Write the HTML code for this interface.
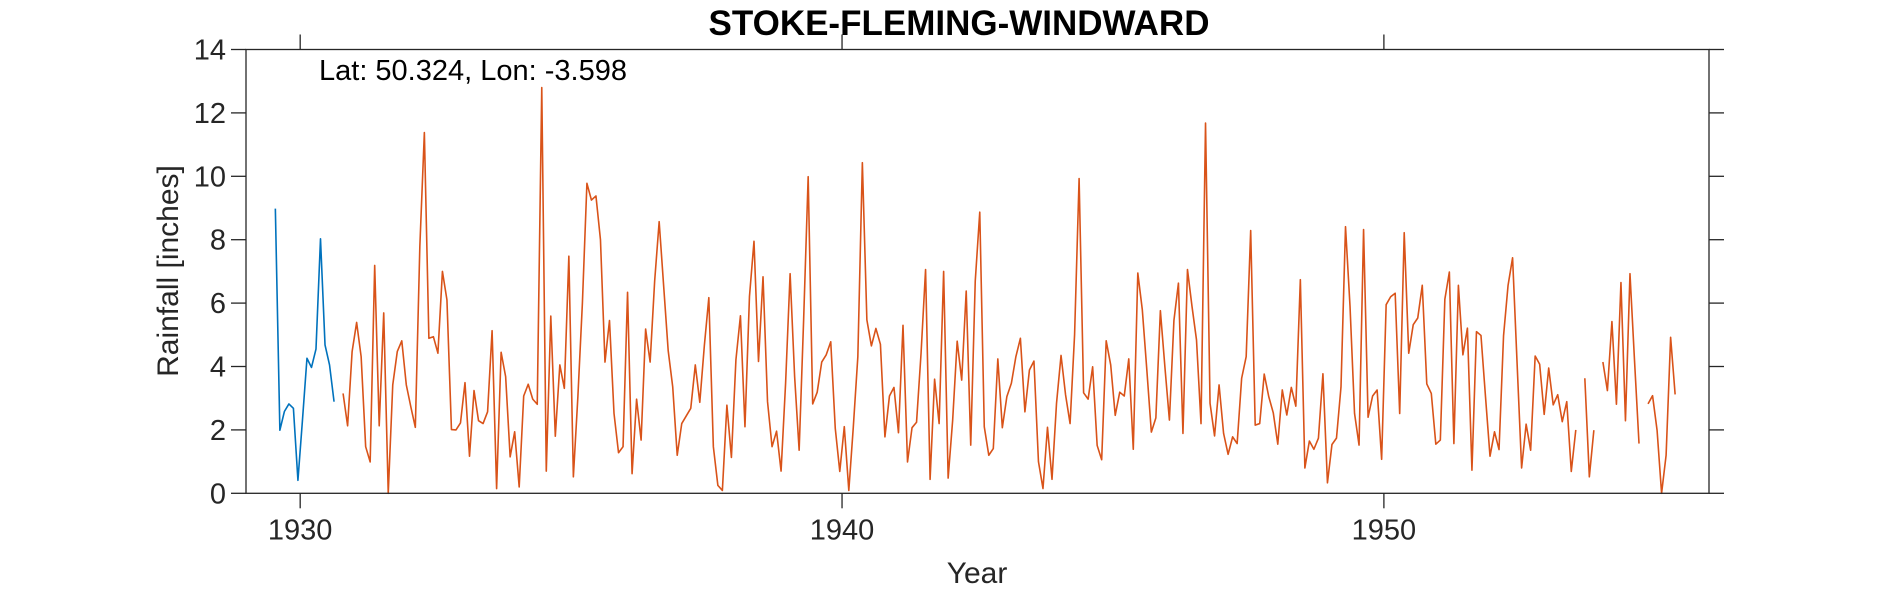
<!DOCTYPE html>
<html><head><meta charset="utf-8"><style>
html,body{margin:0;padding:0;background:#fff;}
svg{display:block;font-family:"Liberation Sans",Arial,sans-serif;}
</style></head><body>
<svg id="chart" width="1890" height="591" viewBox="0 0 1890 591" xmlns="http://www.w3.org/2000/svg">
<rect x="0" y="0" width="1890" height="591" fill="#fff"/>
<g id="marks"></g>
<g id="axes"></g>
<text x="959" y="35" text-anchor="middle" font-size="35" font-weight="bold" fill="#000">STOKE-FLEMING-WINDWARD</text>
<text x="319" y="80" font-size="29" fill="#000">Lat: 50.324, Lon: -3.598</text>
<text x="977" y="583" text-anchor="middle" font-size="30" fill="#262626">Year</text>
<text x="0" y="0" transform="translate(178,271) rotate(-90)" text-anchor="middle" font-size="30" fill="#262626">Rainfall [inches]</text>
</svg>
<script>
// data: monthly rainfall, first value = July 1929
const startYear = 1929;
const startMonth = 7;
const blueValues = [8.98,1.99,2.58,2.82,2.68,0.41,2.3,4.26,3.97,4.55,8.03,4.68,4.05,2.89];
const orangeOffset = 15; // months after start
const orangeValues = [3.15,2.13,4.47,5.39,4.31,1.47,0.99,7.19,2.13,5.69,0,3.42,4.47,4.81,3.42,2.73,2.08,7.79,11.38,4.89,4.94,
4.42,7.0,6.1,2.01,2.0,2.22,3.49,1.17,3.24,2.29,2.2,2.57,5.13,0.15,4.45,3.68,1.15,1.94,0.2,3.07,3.44,2.97,2.81,12.8,0.7,5.59,1.8,4.05,3.31,7.48,0.52,3.05,6.0,9.78,9.25,9.38,8.0,4.14,5.45,2.52,1.28,
1.47,6.34,0.62,2.97,1.68,5.18,4.14,6.69,8.57,6.53,4.5,3.36,1.2,2.2,2.44,2.68,4.05,2.87,4.65,6.17,1.47,0.25,0.09,2.78,1.13,4.21,5.6,2.1,6.21,7.95,4.16,6.83,2.89,1.47,1.96,0.7,3.47,6.93,3.68,1.36,5.5,
9.99,2.82,3.19,4.14,4.37,4.78,2.05,0.69,2.1,0.09,2.1,4.31,10.43,5.47,4.65,5.2,4.7,1.78,3.07,3.34,1.91,5.3,0.99,2.07,2.24,4.42,7.06,0.44,3.6,2.2,7.0,0.48,2.31,4.8,3.57,6.38,1.52,6.69,8.87,2.1,1.2,
1.41,4.24,2.07,3.05,3.47,4.31,4.89,2.57,3.89,4.17,1.0,0.15,2.08,0.44,2.84,4.35,3.11,2.2,5.0,9.93,3.17,2.97,3.99,1.51,1.06,4.81,4.05,2.46,3.19,3.07,4.24,1.39,6.95,5.79,3.89,1.93,2.38,5.76,3.99,2.31,5.45,
6.63,1.89,7.06,5.9,4.84,2.2,11.68,2.84,1.81,3.42,1.89,1.23,1.78,1.57,3.63,4.31,8.29,2.15,2.2,3.76,3.05,2.54,1.55,3.26,2.47,3.34,2.75,6.74,0.8,1.65,1.39,1.74,3.77,0.33,1.54,1.74,3.35,8.41,5.9,2.52,1.52,
8.32,2.4,3.07,3.26,1.07,5.95,6.2,6.31,2.52,8.22,4.42,5.32,5.53,6.56,3.45,3.15,1.55,1.68,6.12,6.98,1.57,6.56,4.37,5.21,0.73,5.1,4.98,3.05,1.17,1.94,1.38,4.97,6.56,7.43,4.1,0.8,2.18,1.36,4.33,4.07,2.49,
3.95,2.79,3.11,2.26,2.89,0.69,2.0,null,3.63,0.52,1.99,null,4.14,3.24,5.42,2.81,6.65,2.29,6.93,4.2,1.57,null,2.82,3.08,1.99,0,1.2,4.92,3.12];
const xTickLabels = [1930,1940,1950];
const yTickLabels = [0,2,4,6,8,10,12,14];
const xDomain = [1929,1956];
const yDomain = [0,14];

const L=246, R=1709, T=49.5, B=493.3;
const NS='http://www.w3.org/2000/svg';
function xs(t){return L+(t-xDomain[0])/(xDomain[1]-xDomain[0])*(R-L);}
function ys(v){return B-(v-yDomain[0])/(yDomain[1]-yDomain[0])*(B-T);}
function monthTime(i){return startYear+(startMonth-1+i+0.5)/12;}
function mk(tag,attrs,parent){const e=document.createElementNS(NS,tag);for(const k in attrs)e.setAttribute(k,attrs[k]);parent.appendChild(e);return e;}

const marks=document.getElementById('marks');
const axes=document.getElementById('axes');

function drawSeries(vals,offset,color,name){
  let d='',pen=false;
  vals.forEach((v,i)=>{
    if(v===null||v===undefined){pen=false;return;}
    const x=xs(monthTime(offset+i)).toFixed(2), y=ys(v).toFixed(2);
    d+=(pen?'L':'M')+x+' '+y+' ';pen=true;
  });
  const p=mk('path',{d:d,fill:'none',stroke:color,'stroke-width':1.6,'stroke-linejoin':'round'},marks);
  
  
}
drawSeries(blueValues,0,'#0072BD','series-line-early');
drawSeries(orangeValues,orangeOffset,'#D95319','series-line-main');

const frame=mk('rect',{x:L,y:T,width:R-L,height:B-T,fill:'none',stroke:'#262626','stroke-width':1.3},axes);



const tl=15;
yTickLabels.forEach(v=>{
  const y=ys(v);
  const t1=mk('line',{x1:L-tl,x2:L,y1:y,y2:y,stroke:'#262626','stroke-width':1.3},axes);
  
  
  const t2=mk('line',{x1:R,x2:R+tl,y1:y,y2:y,stroke:'#262626','stroke-width':1.3},axes);
  
  
  const lb=mk('text',{x:L-20,y:y+10,'text-anchor':'end','font-size':29,fill:'#262626'},axes);
  lb.textContent=v;
  
  
});
xTickLabels.forEach(v=>{
  const x=xs(v);
  const t1=mk('line',{x1:x,x2:x,y1:B,y2:B+tl,stroke:'#262626','stroke-width':1.3},axes);
  
  
  const t2=mk('line',{x1:x,x2:x,y1:T-tl,y2:T,stroke:'#262626','stroke-width':1.3},axes);
  
  
  const lb=mk('text',{x:x,y:B+46,'text-anchor':'middle','font-size':29,fill:'#262626'},axes);
  lb.textContent=v;
  
  
});
</script>
</body></html>
